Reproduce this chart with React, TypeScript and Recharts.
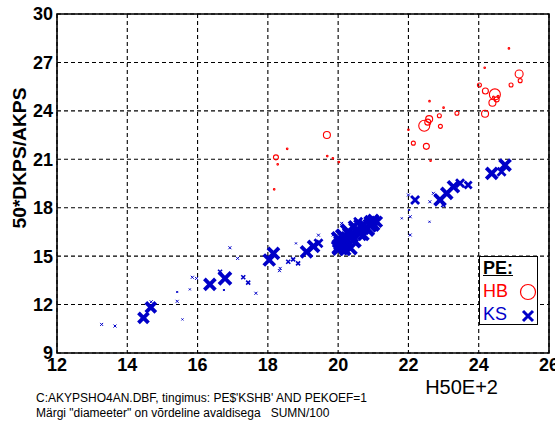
import { ScatterChart, Scatter, XAxis, YAxis, CartesianGrid, ReferenceArea } from "recharts";

const X_TICKS = [12, 14, 16, 18, 20, 22, 24, 26];
const Y_TICKS = [9, 12, 15, 18, 21, 24, 27, 30];

// HB – red circles (x, y, marker diameter ~ SUMN/100)
const hbX = [19.68, 18.23, 18.55, 18.28, 19.69, 19.85, 20.02, 18.18, 24.86, 24.17, 25.15, 25.18, 24.92, 24.02, 24.19, 24.46, 24.39, 24.51, 24.18, 22.6, 23.0, 22.88, 23.38, 22.59, 22.45, 22.91, 22.0, 22.14, 22.51, 22.63, 22.55, 24.42, 24.55];
const hbY = [22.5, 21.12, 21.65, 20.69, 21.2, 21.06, 20.83, 19.14, 27.87, 26.67, 26.28, 25.87, 25.6, 25.6, 25.23, 25.02, 24.5, 24.71, 23.82, 24.6, 24.2, 23.7, 23.85, 23.49, 23.08, 23.04, 22.83, 22.0, 21.8, 20.91, 23.3, 24.85, 24.9];
const hbD = [7, 5, 1, 1, 1, 1, 1, 1, 1, 1, 8, 4, 4, 4, 6, 11, 7, 5, 7, 1, 1, 4, 4, 7, 11, 4, 1, 4, 6, 1, 6, 2, 2];

// KS – blue crosses
const ksX = [13.27, 13.65, 14.46, 14.67, 14.68, 15.57, 15.42, 15.42, 15.78, 15.85, 15.97, 16.92, 17.14, 16.35, 16.78, 16.64, 16.75, 17.3, 17.44, 17.66, 18.04, 18.16, 18.35, 18.58, 18.72, 18.86, 19.1, 18.8, 19.3, 19.44, 19.44, 18.33, 20.05, 20.15, 20.29, 20.43, 20.53, 20.67, 20.81, 20.96, 20.0, 20.24, 20.2, 20.72, 21.1, 20.57, 20.1, 19.86, 20.35, 20.1, 20.35, 20.6, 20.9, 20.45, 20.0, 21.0, 22.19, 22.0, 21.81, 22.05, 22.05, 22.6, 22.02, 22.61, 22.71, 22.9, 23.09, 23.28, 23.47, 23.7, 24.37, 24.75, 24.65, 22.99];
const ksY = [10.77, 10.67, 11.18, 11.83, 12.17, 11.08, 12.2, 12.78, 12.94, 13.69, 13.62, 15.52, 14.86, 13.25, 13.62, 14.03, 12.9, 13.69, 13.36, 12.7, 14.76, 15.17, 14.24, 14.65, 14.8, 14.55, 15.27, 15.79, 15.6, 15.8, 16.3, 14.1, 15.58, 16.2, 16.51, 16.0, 16.62, 16.82, 16.72, 17.03, 16.1, 15.89, 15.38, 16.31, 17.13, 17.13, 17.03, 16.31, 15.5, 15.8, 16.3, 16.45, 16.9, 16.85, 15.4, 17.25, 18.48, 18.79, 17.34, 17.44, 16.31, 17.13, 17.86, 18.37, 18.89, 18.48, 18.89, 19.3, 19.51, 19.41, 20.13, 20.64, 20.23, 18.17];
const ksD = [3, 3, 10, 10, 3, 2, 3, 2, 2, 3, 3, 3, 3, 11, 12, 4, 2, 4, 4, 3, 11, 11, 3, 4, 4, 4, 11, 2, 11, 8, 3, 3, 14, 14, 14, 14, 14, 14, 14, 14, 12, 12, 10, 10, 10, 8, 3, 3, 12, 14, 14, 14, 12, 10, 10, 10, 8, 3, 2, 3, 3, 2, 2, 3, 3, 11, 11, 11, 8, 7, 11, 11, 8, 4];

const hbData = hbX.map((x, i) => ({ x, y: hbY[i], d: hbD[i] }));
const ksData = ksX.map((x, i) => ({ x, y: ksY[i], d: ksD[i] }));

const RED = "#ff0000";
const BLUE = "#0000c8";
const FONT = "'Liberation Sans', Arial, sans-serif";
const TICK = { fill: "#000", fontSize: 18, fontWeight: 700, fontFamily: FONT };

function Circle(props: any) {
  const { cx, cy, payload } = props;
  const r = Math.max(payload.d / 2, 0.8);
  return <circle cx={cx} cy={cy} r={r} fill="none" stroke={RED} strokeWidth={1.1} />;
}

function Cross(props: any) {
  const { cx, cy, payload } = props;
  const h = payload.d / 2;
  const w = payload.d >= 13 ? 4.5 : payload.d >= 10 ? 3.8 : payload.d >= 7 ? 2.8 : payload.d >= 4 ? 1.6 : 1;
  return (
    <path
      d={`M${cx - h},${cy - h}L${cx + h},${cy + h}M${cx - h},${cy + h}L${cx + h},${cy - h}`}
      stroke={BLUE}
      strokeWidth={w}
      fill="none"
    />
  );
}

export default function App() {
  return (
    <div style={{ position: "absolute", left: 0, top: 0, width: 555, height: 423, background: "#fff", fontFamily: FONT }}>
      <ScatterChart width={555} height={423} margin={{ top: 14, right: 6, bottom: 40, left: 0 }}>
        <CartesianGrid stroke="#000" strokeDasharray="4 3" strokeWidth={1.1} />
        <XAxis
          type="number"
          dataKey="x"
          domain={[12, 26]}
          ticks={X_TICKS}
          interval={0}
          height={30}
          axisLine={false}
          tickLine={false}
          tickSize={3}
          tickMargin={2}
          tick={TICK}
          label={{ value: "H50E+2", position: "insideBottomRight", dy: 16, dx: -46, fill: "#000", fontSize: 20, fontFamily: FONT }}
        />
        <YAxis
          type="number"
          dataKey="y"
          domain={[9, 30]}
          ticks={Y_TICKS}
          interval={0}
          width={57}
          axisLine={false}
          tickLine={false}
          tickSize={2}
          tickMargin={2}
          tick={TICK}
          label={{
            content: () => (
              <text
                x={20}
                y={158}
                transform="rotate(-90, 20, 158)"
                textAnchor="middle"
                dominantBaseline="central"
                fontSize={18}
                fontWeight={700}
                fontFamily={FONT}
                fill="#000"
                textLength={141}
                lengthAdjust="spacingAndGlyphs"
              >
                50*DKPS/AKPS
              </text>
            ),
          }}
        />
        <ReferenceArea x1={12} x2={26} y1={9} y2={30} fill="none" stroke="#000" strokeWidth={1.6} ifOverflow="visible" />
        <Scatter name="HB" data={hbData} shape={Circle} isAnimationActive={false} />
        <Scatter name="KS" data={ksData} shape={Cross} isAnimationActive={false} />
      </ScatterChart>

      <div style={{ position: "absolute", left: 479, top: 256, width: 57, height: 67, border: "1.5px solid #000", background: "#fff", fontSize: 18, lineHeight: "23px" }}>
        <div style={{ paddingLeft: 3, fontWeight: 700, textDecoration: "underline", marginTop: 0 }}>PE:</div>
        <div style={{ paddingLeft: 3, color: RED, position: "relative" }}>
          HB
          <svg width={18} height={18} style={{ position: "absolute", left: 39, top: 3 }}>
            <circle cx={9} cy={9} r={7.5} fill="none" stroke={RED} strokeWidth={1.2} />
          </svg>
        </div>
        <div style={{ paddingLeft: 3, color: BLUE, position: "relative" }}>
          KS
          <svg width={18} height={18} style={{ position: "absolute", left: 39, top: 4 }}>
            <path d="M4,4L14,14M4,14L14,4" stroke={BLUE} strokeWidth={3} />
          </svg>
        </div>
      </div>

      <div style={{ position: "absolute", left: 36, top: 391, fontSize: 12, lineHeight: "15px", color: "#000", whiteSpace: "pre" }}>
        <div>C:AKYPSHO4AN.DBF, tingimus: PE$'KSHB' AND PEKOEF=1</div>
        <div>Märgi "diameeter" on võrdeline avaldisega   SUMN/100</div>
      </div>
    </div>
  );
}
